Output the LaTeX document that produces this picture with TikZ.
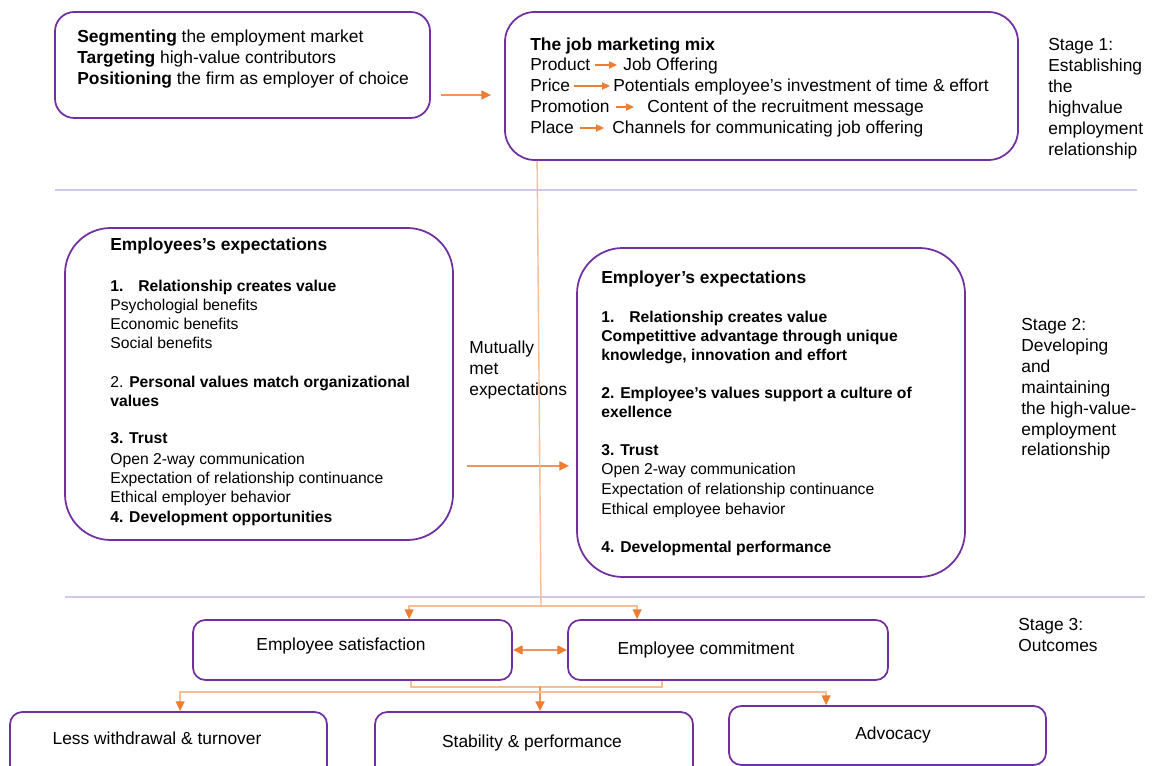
\documentclass[tikz,border=0pt]{standalone}
\usepackage{fontspec}
\setmainfont{Liberation Sans}
\usetikzlibrary{arrows.meta,fit,calc}
\definecolor{boxpurple}{HTML}{7030A0}
\definecolor{seppurple}{HTML}{D6C6E9}
\definecolor{orangeD}{HTML}{ED7D31}
\definecolor{orangeM}{HTML}{F0955A}
\definecolor{orangeL}{HTML}{F6BE96}
\begin{document}
\begin{tikzpicture}[x=0.02cm,y=-0.02cm,
  box/.style={draw=boxpurple,line width=1pt,inner sep=0pt},
  big/.style={font=\fontsize{9.9}{11.9}\selectfont},
  small/.style={font=\fontsize{8.93}{10.8}\selectfont},
  txt/.style={inner sep=0pt,anchor=base west,text=black},
  sepline/.style={draw=seppurple,line width=0.8pt},
  otip/.tip={Triangle[length=5.5pt,width=5pt,color=orangeD]},
  stip/.tip={Triangle[length=4.5pt,width=4pt,color=orangeD]},
  faint/.style={draw=orangeL,line width=0.8pt},
  medium/.style={draw=orangeM,line width=1pt},
  sarrow/.style={draw=orangeD,line width=1pt,-stip},
]
\fill[white] (0,0) rectangle (1159,766);
\useasboundingbox (0,0) rectangle (1159,766);

% separators
\draw[sepline] (55,190) -- (1137,190);
\draw[sepline] (65,597) -- (1145,597);

% boxes
\node[box,rounded corners=11pt,fit={(55,12)(430,118)}] (A) {};
\node[box,rounded corners=17pt,fit={(505,12)(1018,160)}] (B) {};
\node[box,rounded corners=26pt,fit={(65,228)(453,540)}] (C) {};
\node[box,rounded corners=26pt,fit={(577,248)(965,577)}] (D) {};
\node[box,rounded corners=7pt,fit={(193,620)(512,680)}] (E) {};
\node[box,rounded corners=7pt,fit={(568,620)(888,680)}] (F) {};
\node[box,rounded corners=7pt,fit={(10,712)(327,795)}] (L) {};
\node[box,rounded corners=7pt,fit={(375,712)(693,795)}] (S) {};
\node[box,rounded corners=7pt,fit={(729,706)(1046,765)}] (V) {};

% box A text
\node[big,txt] (a1) at (77,43) {\textbf{Segmenting} the employment market};
\node[big,txt] (a2) at (77,64) {\textbf{Targeting} high-value contributors};
\node[big,txt] (a3) at (77,85) {\textbf{Positioning} the firm as employer of choice};

% box B text
\node[big,txt] (mix) at (530,51) {\textbf{The job marketing mix}};
\node[big,txt] (p1) at (530,71) {Product};
\node[big,txt] (p1r) at (623,71) {Job Offering};
\node[big,txt] (p2) at (530,92) {Price};
\node[big,txt] (p2r) at (613,92) {Potentials employee’s investment of time \& effort};
\node[big,txt] (p3) at (530,113) {Promotion};
\node[big,txt] (p3r) at (647,113) {Content of the recruitment message};
\node[big,txt] (p4) at (530,134) {Place};
\node[big,txt] (p4r) at (612,134) {Channels for communicating job offering};
\draw[sarrow] ($(p1.base east)+(4,-6)$) -- ($(p1r.base west)+(-6,-6)$);
\draw[sarrow] ($(p2.base east)+(4,-6)$) -- ($(p2r.base west)+(-3,-6)$);
\draw[sarrow] ($(p3.base east)+(6,-6)$) -- ($(p3r.base west)+(-13,-6)$);
\draw[sarrow] ($(p4.base east)+(6,-6)$) -- ($(p4r.base west)+(-8,-6)$);

% stage texts
\node[big,txt,anchor=north west,align=left] (st1) at (1048,38)
  {Stage 1:\\Establishing\\the\\highvalue\\employment\\relationship};
\node[big,txt,anchor=north west,align=left] (st2) at (1021,318)
  {Stage 2:\\Developing\\and\\maintaining\\the high-value-\\employment\\relationship};
\node[big,txt,anchor=north west,align=left] (st3) at (1018,618)
  {Stage 3:\\Outcomes};
\node[big,txt,anchor=north west,align=left] (mut) at (469,341)
  {Mutually\\met\\expectations};

% box C text
\node[big,txt] (c0) at (110,251) {\textbf{Employees’s expectations}};
\node[small,txt] (c1) at (110,292) {\textbf{1.\hspace{8.5pt}Relationship creates value}};
\node[small,txt] (c2) at (110,311) {Psychologial benefits};
\node[small,txt] (c3) at (110,330) {Economic benefits};
\node[small,txt] (c4) at (110,349) {Social benefits};
\node[small,txt] (c5) at (110,388) {2. \textbf{Personal values match organizational}};
\node[small,txt] (c6) at (110,407) {\textbf{values}};
\node[small,txt] (c7) at (110,444) {\textbf{3. Trust}};
\node[small,txt] (c8) at (110,464) {Open 2-way communication};
\node[small,txt] (c9) at (110,483) {Expectation of relationship continuance};
\node[small,txt] (c10) at (110,502) {Ethical employer behavior};
\node[small,txt] (c11) at (110,522) {\textbf{4. Development opportunities}};

% box D text
\node[big,txt] (d0) at (601,284) {\textbf{Employer’s expectations}};
\node[small,txt] (d1) at (601,323) {\textbf{1.\hspace{8.5pt}Relationship creates value}};
\node[small,txt] (d2) at (601,342) {\textbf{Competittive advantage through unique}};
\node[small,txt] (d3) at (601,361) {\textbf{knowledge, innovation and effort}};
\node[small,txt] (d4) at (601,399) {\textbf{2. Employee’s values support a culture of}};
\node[small,txt] (d5) at (601,418) {\textbf{exellence}};
\node[small,txt] (d6) at (601,456) {\textbf{3. Trust}};
\node[small,txt] (d7) at (601,475) {Open 2-way communication};
\node[small,txt] (d8) at (601,495) {Expectation of relationship continuance};
\node[small,txt] (d9) at (601,514) {Ethical employee behavior};
\node[small,txt] (d10) at (601,552) {\textbf{4. Developmental performance}};

% outcome texts
\node[big,txt,anchor=center] (et) at (341,646) {Employee satisfaction};
\node[big,txt,anchor=center] (ft) at (706,650) {Employee commitment};
\node[big,txt,anchor=center] (lt) at (157,738) {Less withdrawal \& turnover};
\node[big,txt,anchor=center] (stt) at (532,743) {Stability \& performance};
\node[big,txt,anchor=center] (vt) at (893,735) {Advocacy};

% connectors
\draw[medium,-otip] ($(A.east)+(10,30)$) -- ($(B.west)+(-13,9)$);
\draw[medium,-otip] ($(C.south east)+(13,-75)$) -- ($(D.south west)+(-7,-112)$);

\coordinate (split) at (541,606);
\draw[faint] ($(B.south west)+(33,0)$) -- (split);
\draw[faint,-otip] (split) -| ($(E.north west)+(217,0)$);
\draw[faint,-otip] (split) -| ($(F.north west)+(70,0)$);
\draw[medium,otip-otip] (E.east) -- (F.west);

\coordinate (join) at (540,686);
\draw[faint] ($(E.south west)+(219,0)$) -- ++(0,6) -| ($(F.south west)+(95,0)$);
\draw[medium,-otip] (join) -- (join |- S.north);
\coordinate (bar) at (540,692);
\draw[faint,-otip] (bar) -| ($(L.north west)+(171,0)$);
\draw[faint,-otip] (bar) -| ($(V.north west)+(98,0)$);
\end{tikzpicture}
\end{document}
